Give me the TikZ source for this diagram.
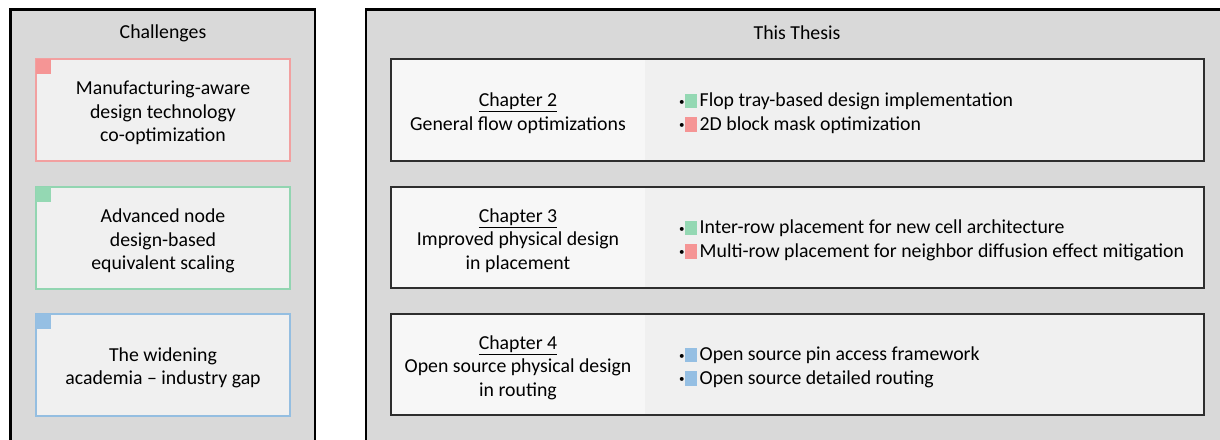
\documentclass[tikz,border=0pt]{standalone}
\usepackage{fontspec}
\setmainfont{Carlito}
\usepackage{xcolor}
\definecolor{panelgray}{HTML}{D9D9D9}
\definecolor{boxfill}{HTML}{F0F0F0}
\definecolor{chapfill}{HTML}{F7F7F7}
\definecolor{redline}{HTML}{F2A0A0}
\definecolor{redsq}{HTML}{F59595}
\definecolor{greenline}{HTML}{92D5B1}
\definecolor{greensq}{HTML}{94D8B3}
\definecolor{blueline}{HTML}{94BEE1}
\definecolor{bluesq}{HTML}{95BFE3}
\definecolor{chapline}{HTML}{2E2E2E}
\newcommand\tagsq[1]{{\fontsize{11}{11}\selectfont\raisebox{1.5pt}{\textbullet}}\textcolor{#1}{\rule[-1.5pt]{12pt}{14.5pt}}\hspace{3pt}}
\newcommand\uline[1]{\underline{#1}}
\tikzset{
  panel/.style={draw=black, line width=2.2pt, fill=panelgray},
  txt/.style={font=\fontsize{19.8}{23.5}\selectfont},
  chalbox/.style={txt, fill=boxfill, line width=1.3pt, minimum width=254pt, minimum height=102pt,
    inner sep=0pt, align=center},
  cornersq/.style={anchor=north west, minimum width=15pt, minimum height=15pt, inner sep=0pt},
  chapbox/.style={draw=chapline, line width=1.8pt},
  chaptext/.style={txt, align=center, yshift=-3pt},
  bullets/.style={txt, anchor=west, align=left, inner sep=0pt, yshift=-3pt},
  paneltitle/.style={txt},
}
\begin{document}
\begin{tikzpicture}[x=1pt,y=-1pt]
\useasboundingbox (0,0) rectangle (1220,439);
\begin{scope}
\clip (0,0) rectangle (1220,439);
% outer panels
\draw[panel] (10.5,9.5) rectangle (315,460);
\draw[panel] (366,9.5) rectangle (1240,460);
\end{scope}
\node[paneltitle] (chal) at (163,33) {Challenges};
\node[paneltitle] (thesis) at (797,33) {This Thesis};

% challenge boxes
\node[chalbox, draw=redline] (c1) at (163,110) {};
\node[chalbox, draw=greenline] (c2) at (163,238) {};
\node[chalbox, draw=blueline] (c3) at (163,365) {};
\node[cornersq, fill=redsq] (s1) at (c1.north west) {};
\node[cornersq, fill=greensq] (s2) at (c2.north west) {};
\node[cornersq, fill=bluesq] (s3) at (c3.north west) {};
\node[chaptext] (l1) at (c1) {Manufacturing-aware\\design technology\\co-optimization};
\node[chaptext] (l2) at (c2) {Advanced node\\design-based\\equivalent scaling};
\node[chaptext] (l3) at (c3) {The widening\\academia -- industry gap};

% chapter boxes: lighter title part on the left, list part on the right
\foreach \n/\t/\b in {ch2/59/161, ch3/187/288, ch4/314/415}{
  \fill[chapfill] (391,\t) rectangle (645,\b);
  \fill[boxfill] (645,\t) rectangle (1204,\b);
  \draw[chapbox] (391,\t) rectangle (1204,\b);
  \coordinate (\n-l) at (518,{(\t+\b)/2});
  \coordinate (\n-r) at (679,{(\t+\b)/2});
}
\node[chaptext] (t2) at (ch2-l) {\uline{Chapter 2}\\General flow optimizations};
\node[chaptext] (t3) at (ch3-l) {\uline{Chapter 3}\\Improved physical design\\in placement};
\node[chaptext] (t4) at (ch4-l) {\uline{Chapter 4}\\Open source physical design\\in routing};

\node[bullets] (b2) at (ch2-r) {\tagsq{greensq}Flop tray-based design implementation\\\tagsq{redsq}2D block mask optimization};
\node[bullets] (b3) at (ch3-r) {\tagsq{greensq}Inter-row placement for new cell architecture\\\tagsq{redsq}Multi-row placement for neighbor diffusion effect mitigation};
\node[bullets] (b4) at (ch4-r) {\tagsq{bluesq}Open source pin access framework\\\tagsq{bluesq}Open source detailed routing};
\end{tikzpicture}
\end{document}
